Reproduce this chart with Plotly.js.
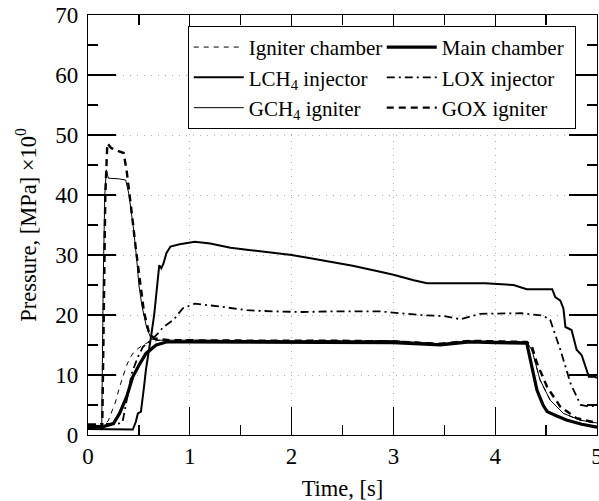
<!DOCTYPE html>
<html><head><meta charset="utf-8">
<script src="https://cdn.plot.ly/plotly-3.0.1.min.js"></script>
<style>html,body{margin:0;padding:0;background:#fff;}#chart{width:599px;height:501px;}</style>
</head><body><div id="chart"></div>
<script>
// Igniter chamber (thin dashed)
const igniterT = [0, 0.15, 0.2, 0.23, 0.27, 0.31, 0.34, 0.38, 0.41, 0.45, 0.49, 0.55, 0.6, 0.7, 1.0, 1.5, 2.0, 2.5, 3.0, 3.3, 3.46, 3.75, 4.0, 4.31, 4.36, 4.44, 4.54, 4.67, 4.83, 5.0];
const igniterP = [1.5, 1.6, 2.4, 3.7, 5.5, 8, 9.7, 11.6, 12.8, 13.8, 14.4, 15.1, 15.5, 15.8, 15.8, 15.7, 15.7, 15.7, 15.7, 15.4, 15.2, 15.7, 15.6, 15.5, 14.2, 9.2, 5.8, 3.6, 2.5, 1.9];
// Main chamber (thick solid)
const mainT = [0, 0.15, 0.25, 0.31, 0.38, 0.44, 0.51, 0.57, 0.67, 0.77, 0.9, 1.5, 2.0, 2.5, 3.0, 3.46, 3.75, 4.0, 4.31, 4.36, 4.41, 4.47, 4.51, 4.6, 4.7, 4.85, 5.0];
const mainP = [1.4, 1.4, 1.9, 3.6, 6.4, 9.7, 11.9, 13.6, 15.0, 15.5, 15.5, 15.5, 15.5, 15.5, 15.4, 15.0, 15.5, 15.4, 15.3, 11.4, 7.5, 5.0, 3.9, 3.2, 2.5, 1.8, 1.3];
// LCH4 injector (solid)
const lch4T = [0, 0.1, 0.2, 0.44, 0.47, 0.49, 0.52, 0.53, 0.55, 0.57, 0.59, 0.62, 0.65, 0.68, 0.70, 0.72, 0.74, 0.77, 0.81, 0.9, 1.05, 1.2, 1.4, 1.6, 1.8, 2.0, 2.2, 2.4, 2.6, 2.87, 3.0, 3.2, 3.33, 3.6, 3.9, 4.18, 4.31, 4.56, 4.59, 4.64, 4.67, 4.69, 4.75, 4.8, 4.85, 4.92, 4.98, 5.0];
const lch4P = [1.0, 1.0, 0.9, 0.9, 2.2, 3.6, 3.9, 5.0, 8, 11, 13.5, 16.5, 20, 25, 28.3, 27.8, 28.5, 30.3, 31.4, 31.8, 32.2, 31.9, 31.2, 30.8, 30.4, 30.0, 29.4, 28.8, 28.2, 27.2, 26.7, 25.8, 25.3, 25.3, 25.3, 25.0, 24.3, 24.3, 23, 22.4, 21.1, 18, 17.5, 14.2, 13.3, 9.7, 9.7, 9.5];
// LOX injector (dash-dot)
const loxT = [0, 0.2, 0.3, 0.34, 0.38, 0.43, 0.49, 0.54, 0.62, 0.68, 0.74, 0.84, 0.93, 1.05, 1.3, 1.56, 1.82, 2.1, 2.4, 2.87, 3.26, 3.5, 3.66, 3.85, 4.25, 4.47, 4.54, 4.64, 4.74, 4.84, 4.9, 5.0];
const loxP = [1.8, 1.8, 1.9, 2.2, 6, 10.3, 13, 14.7, 15.8, 16.8, 18, 19.2, 21.1, 21.9, 21.4, 20.8, 20.6, 20.5, 20.6, 20.6, 20.0, 19.8, 19.3, 20.2, 20.3, 19.9, 19.2, 14.2, 8.6, 5.0, 4.8, 4.8];
// GCH4 igniter (thin solid)
const gch4T = [0, 0.135, 0.15, 0.165, 0.18, 0.2, 0.3, 0.37, 0.4, 0.42, 0.45, 0.48, 0.5, 0.53, 0.575, 0.62, 0.7, 1.0, 1.5, 2.0, 2.5, 3.0, 3.46, 3.75, 4.31, 4.36, 4.44, 4.54, 4.67, 4.83, 5.0];
const gch4P = [1.6, 1.6, 26, 40, 44.2, 42.8, 42.7, 42.5, 40.3, 38, 34, 29, 25, 21.5, 18, 16, 15.8, 15.8, 15.7, 15.7, 15.7, 15.7, 15.2, 15.7, 15.5, 14.2, 9.2, 5.8, 3.6, 2.5, 2.0];
// GOX igniter (thick dashed)
const goxT = [0, 0.14, 0.155, 0.17, 0.19, 0.23, 0.3, 0.35, 0.38, 0.4, 0.43, 0.47, 0.5, 0.55, 0.6, 0.65, 0.8, 1.5, 2.0, 2.5, 3.0, 3.46, 3.75, 4.31, 4.36, 4.41, 4.51, 4.64, 4.8, 5.0];
const goxP = [1.2, 1.2, 20, 40, 48.6, 47.8, 47.3, 47, 44, 40.8, 37, 31, 27, 20.5, 17, 16.1, 15.8, 15.7, 15.7, 15.7, 15.6, 15.2, 15.7, 15.5, 14.8, 12, 8, 4.7, 2.8, 2.0];

const names = ['Igniter chamber', 'Main chamber', 'LCH<sub>4</sub> injector', 'LOX injector', 'GCH<sub>4</sub> igniter', 'GOX igniter'];
const xs = [igniterT, mainT, lch4T, loxT, gch4T, goxT];
const ys = [igniterP, mainP, lch4P, loxP, gch4P, goxP];
const styles = [
  {width: 1, dash: '5px,5px'},
  {width: 3.2, dash: 'solid'},
  {width: 2, dash: 'solid'},
  {width: 1.8, dash: '8px,4px,2px,4px'},
  {width: 1, dash: 'solid'},
  {width: 2.4, dash: '7px,5px'}
];
const traces = names.map((n, i) => ({
  type: 'scatter', mode: 'lines', name: n, x: xs[i], y: ys[i],
  line: {color: 'black', width: styles[i].width, dash: styles[i].dash, shape: 'linear'}
}));

const FAM = '"Liberation Serif", "Times New Roman", serif';
const tickFont = {family: FAM, size: 23, color: 'black'};
const titleFont = {family: FAM, size: 22.5, color: 'black'};
const axisCommon = {
  showline: true, linecolor: 'black', linewidth: 1.2, mirror: 'ticks',
  ticks: 'inside', ticklen: 28, tickwidth: 1.2, tickcolor: 'black',
  showgrid: true, gridcolor: '#b0b0b0', gridwidth: 1, griddash: '1px,6px',
  zeroline: false, tickfont: tickFont, automargin: false, ticklabeloverflow: 'allow'
};
const layout = {
  width: 599, height: 501,
  margin: {l: 88, r: 2, t: 15, b: 66, autoexpand: false},
  paper_bgcolor: 'white', plot_bgcolor: 'white',
  font: titleFont,
  showlegend: true,
  xaxis: Object.assign({}, axisCommon, {
    range: [0, 5], dtick: 1, tick0: 0,
    minor: {dtick: 0.5, ticklen: 10, tickwidth: 1.2, tickcolor: 'black', ticks: 'inside', showgrid: false},
    title: {text: 'Time, [s]', font: titleFont, standoff: 14}
  }),
  yaxis: Object.assign({}, axisCommon, {
    range: [0, 70], dtick: 10, tick0: 0, ticklabelstandoff: 4,
    minor: {dtick: 5, ticklen: 10, tickwidth: 1.2, tickcolor: 'black', ticks: 'inside', showgrid: false},
    title: {text: 'Pressure, [MPa] ×10<sup>0</sup>', font: titleFont, standoff: 12}
  }),
  legend: {
    orientation: 'h', x: 0.196, y: 0.974, xanchor: 'left', yanchor: 'top',
    bgcolor: 'white', bordercolor: 'black', borderwidth: 1,
    font: {family: FAM, size: 21, color: 'black'},
    entrywidth: 128, entrywidthmode: 'pixels', itemwidth: 50, traceorder: 'normal'
  }
};
Plotly.newPlot('chart', traces, layout, {staticPlot: true, displayModeBar: false});
</script>
</body></html>
